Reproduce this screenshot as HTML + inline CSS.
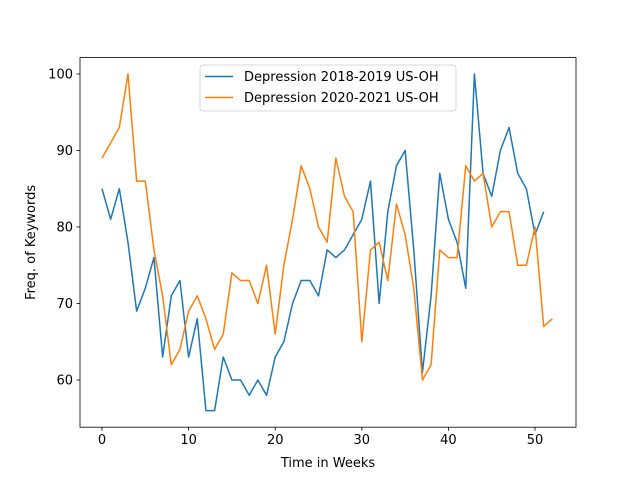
<!DOCTYPE html>
<html><head><meta charset="utf-8"><style>
body{margin:0;background:#fff;font-family:"Liberation Sans","DejaVu Sans",sans-serif;}
svg text{font-family:"DejaVu Sans","Liberation Sans",sans-serif;font-size:13px;fill:#000;}
</style></head><body>
<svg id="chart" width="640" height="480">
<rect x="0" y="0" width="640" height="480" fill="#fff"/>
<g id="plot"></g>
</svg>
<script>
const blueLabel = "Depression 2018-2019 US-OH";
const orangeLabel = "Depression 2020-2021 US-OH";
const blueValues = [85,81,85,78,69,72,76,63,71,73,63,68,56,56,63,60,60,58,60,58,63,65,70,73,73,71,77,76,77,79,81,86,70,82,88,90,77,61,71,87,81,78,72,100,87,84,90,93,87,85,79,82];
const orangeValues = [89,91,93,100,86,86,77,71,62,64,69,71,68,64,66,74,73,73,70,75,66,75,81,88,85,80,78,89,84,82,65,77,78,73,83,79,72,60,62,77,76,76,88,86,87,80,82,82,75,75,80,67,68];
const xTicks = [0,10,20,30,40,50];
const yTicks = [60,70,80,90,100];

const L=80,R=576,T=57.6,B=427.2;
const xmin=-2.54,xmax=54.73,ymin=53.83,ymax=102.14;
const xs=v=>L+(v-xmin)/(xmax-xmin)*(R-L);
const ys=v=>B-(v-ymin)/(ymax-ymin)*(B-T);
const NS="http://www.w3.org/2000/svg";
const g=document.getElementById('plot');
function mk(tag,attrs){const e=document.createElementNS(NS,tag);for(const k in attrs)e.setAttribute(k,attrs[k]);g.appendChild(e);return e;}

function series(vals,color,name){
  const p=mk('polyline',{points:vals.map((v,i)=>xs(i)+','+ys(v)).join(' '),fill:'none',stroke:color,'stroke-width':1.5,'stroke-linejoin':'round'});
  
  
}
series(blueValues,'#1f77b4','series-2018-2019');
series(orangeValues,'#ff7f0e','series-2020-2021');

const frame=mk('rect',{x:L,y:T,width:R-L,height:B-T,fill:'none',stroke:'#000','stroke-width':0.8});



xTicks.forEach(t=>{
  mk('line',{x1:xs(t),x2:xs(t),y1:B,y2:B+3.5,stroke:'#000','stroke-width':0.8});
  const tx=mk('text',{x:xs(t),y:B+17,'text-anchor':'middle'});tx.textContent=t;
  
  
});
yTicks.forEach(t=>{
  mk('line',{x1:L-3.5,x2:L,y1:ys(t),y2:ys(t),stroke:'#000','stroke-width':0.8});
  const tx=mk('text',{x:L-7,y:ys(t)+4.5,'text-anchor':'end'});tx.textContent=t;
  
  
});
const xl=mk('text',{x:(L+R)/2,y:467,'text-anchor':'middle'});xl.textContent='Time in Weeks';


const yl=mk('text',{x:0,y:0,'text-anchor':'middle',transform:'translate(35,'+((T+B)/2)+') rotate(-90)'});yl.textContent='Freq. of Keywords';



// legend
const lg=mk('rect',{x:200,y:65,width:256,height:46,rx:3,fill:'#fff','fill-opacity':0.8,stroke:'#ccc','stroke-width':0.8});


[[blueLabel,'#1f77b4',81],[orangeLabel,'#ff7f0e',102]].forEach(([lab,c,y])=>{
  mk('line',{x1:205,x2:233,y1:y-4.5,y2:y-4.5,stroke:c,'stroke-width':1.5});
  const t=mk('text',{x:244,y:y});t.textContent=lab;
  
  
});
</script>
</body></html>
